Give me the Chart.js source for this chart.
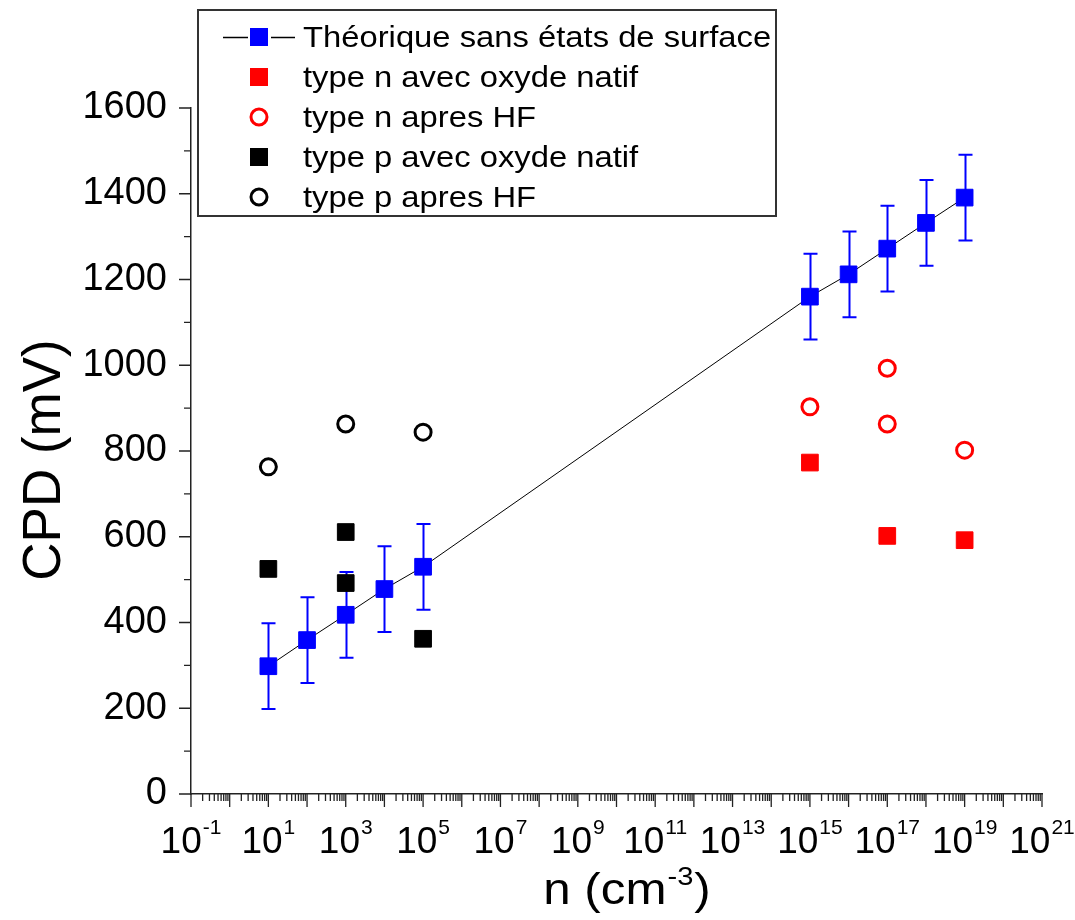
<!DOCTYPE html>
<html>
<head>
<meta charset="utf-8">
<title>CPD en fonction du dopage</title>
<script src="https://cdn.jsdelivr.net/npm/chart.js@4.4.1/dist/chart.umd.min.js"></script>
<style>
  html, body { margin: 0; padding: 0; background: #fff; }
  #wrap { width: 1075px; height: 920px; }
</style>
</head>
<body>
<div id="wrap"><canvas id="cpdChart" width="1075" height="920"></canvas></div>
<script>
// dopage n (cm-3) et CPD (mV)
const nTheo = [1e1, 1e2, 1e3, 1e4, 1e5, 1e15, 1e16, 1e17, 1e18, 1e19];
const cpdTheo = [298, 359, 418, 478, 530, 1160, 1212, 1272, 1332, 1391];
const errTheo = [100, 100, 100, 100, 100, 100, 100, 100, 100, 100];

const nTypeNOx = [1e15, 1e17, 1e19];
const cpdTypeNOx = [773, 602, 592];

const nTypeNHF = [1e15, 1e17, 1e17, 1e19];
const cpdTypeNHF = [903, 993, 863, 802];

const nTypePOx = [1e1, 1e3, 1e3, 1e5];
const cpdTypePOx = [525, 611, 492, 362];

const nTypePHF = [1e1, 1e3, 1e5];
const cpdTypePHF = [763, 863, 844];

const seriesNames = [
  'Théorique sans états de surface',
  'type n avec oxyde natif',
  'type n apres HF',
  'type p avec oxyde natif',
  'type p apres HF'
];

const xTickPowers = [-1, 1, 3, 5, 7, 9, 11, 13, 15, 17, 19, 21];
const yTicks = [0, 200, 400, 600, 800, 1000, 1200, 1400, 1600];

const FONT = '"Liberation Sans", Arial, sans-serif';

const pts = (xs, ys) => xs.map((x, i) => ({ x: x, y: ys[i] }));

// texte legerement etire horizontalement, comme dans la figure d'origine
function stretchText(ctx, txt, x, y, sx) {
  ctx.save();
  ctx.translate(x, y);
  ctx.scale(sx, 1);
  ctx.fillText(txt, 0, 0);
  ctx.restore();
}

function drawMarker(ctx, ds, x, y) {
  ctx.save();
  if (ds.pointStyle === 'rect') {
    ctx.fillStyle = ds.pointBackgroundColor;
    ctx.fillRect(x - 9, y - 9, 18, 18);
  } else {
    ctx.beginPath();
    ctx.arc(x, y, ds.pointRadius, 0, Math.PI * 2);
    ctx.lineWidth = ds.pointBorderWidth;
    ctx.strokeStyle = ds.pointBorderColor;
    ctx.stroke();
  }
  ctx.restore();
}

const figureDecor = {
  id: 'figureDecor',
  beforeDatasetsDraw(chart) {
    const ctx = chart.ctx;
    const xs = chart.scales.x, ys = chart.scales.y;
    ctx.save();
    ctx.strokeStyle = '#0000ff';
    ctx.lineWidth = 2;
    nTheo.forEach((n, i) => {
      const px = Math.round(xs.getPixelForValue(n)) + 0.5;
      const top = ys.getPixelForValue(cpdTheo[i] + errTheo[i]);
      const bot = ys.getPixelForValue(cpdTheo[i] - errTheo[i]);
      ctx.beginPath();
      ctx.moveTo(px, top); ctx.lineTo(px, bot);
      ctx.moveTo(px - 7, top); ctx.lineTo(px + 7, top);
      ctx.moveTo(px - 7, bot); ctx.lineTo(px + 7, bot);
      ctx.stroke();
    });
    ctx.restore();
  },
  afterDraw(chart) {
    const ctx = chart.ctx;
    const xs = chart.scales.x, ys = chart.scales.y;
    const area = chart.chartArea;
    ctx.save();
    ctx.strokeStyle = '#222';
    ctx.lineWidth = 1.3;

    // graduations de l'axe x (decades + mineures)
    ctx.beginPath();
    for (let p = xTickPowers[0]; p <= xTickPowers[xTickPowers.length - 1]; p++) {
      const px = xs.getPixelForValue(Math.pow(10, p));
      ctx.moveTo(px, area.bottom); ctx.lineTo(px, area.bottom + 13);
      if (p < xTickPowers[xTickPowers.length - 1]) {
        for (let k = 2; k <= 9; k++) {
          const mx = xs.getPixelForValue(k * Math.pow(10, p));
          ctx.moveTo(mx, area.bottom); ctx.lineTo(mx, area.bottom + 7);
        }
      }
    }
    // graduations de l'axe y
    yTicks.forEach((v, i) => {
      const py = ys.getPixelForValue(v);
      ctx.moveTo(area.left, py); ctx.lineTo(area.left - 12, py);
      if (i < yTicks.length - 1) {
        const my = ys.getPixelForValue((v + yTicks[i + 1]) / 2);
        ctx.moveTo(area.left, my); ctx.lineTo(area.left - 7, my);
      }
    });
    ctx.stroke();

    // etiquettes de l'axe x : 10 puissance
    ctx.fillStyle = '#000';
    ctx.textBaseline = 'alphabetic';
    ctx.textAlign = 'left';
    xTickPowers.forEach(p => {
      const px = xs.getPixelForValue(Math.pow(10, p));
      const sup = String(p);
      ctx.font = '37px ' + FONT;
      const wBase = ctx.measureText('10').width;
      ctx.font = '21px ' + FONT;
      const wSup = ctx.measureText(sup).width;
      const x0 = px - (wBase + wSup + 1) / 2;
      ctx.font = '37px ' + FONT;
      ctx.fillText('10', x0, 853);
      ctx.font = '21px ' + FONT;
      ctx.fillText(sup, x0 + wBase + 1, 834);
    });

    // titre de l'axe x : n (cm-3)
    const sx = 1.12;
    ctx.font = '44px ' + FONT;
    const wA = ctx.measureText('n (cm').width * sx;
    const wC = ctx.measureText(')').width * sx;
    ctx.font = '26px ' + FONT;
    const wB = ctx.measureText('-3').width * sx;
    let tx = 627 - (wA + wB + wC + 2) / 2;
    ctx.font = '44px ' + FONT;
    stretchText(ctx, 'n (cm', tx, 904, sx);
    ctx.font = '26px ' + FONT;
    stretchText(ctx, '-3', tx + wA + 1, 885, sx);
    ctx.font = '44px ' + FONT;
    stretchText(ctx, ')', tx + wA + wB + 2, 904, sx);

    // titre de l'axe y
    ctx.save();
    ctx.translate(60, 460);
    ctx.rotate(-Math.PI / 2);
    ctx.textAlign = 'center';
    ctx.font = '53px ' + FONT;
    ctx.fillText('CPD (mV)', 0, 0);
    ctx.restore();

    // legende
    const box = { left: 198, top: 10, right: 776, bottom: 216 };
    ctx.fillStyle = '#fff';
    ctx.fillRect(box.left, box.top, box.right - box.left, box.bottom - box.top);
    ctx.strokeStyle = '#333';
    ctx.lineWidth = 2;
    ctx.strokeRect(box.left, box.top, box.right - box.left, box.bottom - box.top);

    const rows = [37, 77, 117, 157, 197];
    const mx = 259;
    ctx.font = '29px ' + FONT;
    ctx.textBaseline = 'middle';
    chart.data.datasets.forEach((ds, i) => {
      const ry = rows[i];
      if (ds.showLine) {
        ctx.strokeStyle = ds.borderColor;
        ctx.lineWidth = 1.5;
        ctx.beginPath();
        ctx.moveTo(223, ry + 0.5); ctx.lineTo(248, ry + 0.5);
        ctx.moveTo(271, ry + 0.5); ctx.lineTo(295, ry + 0.5);
        ctx.stroke();
      }
      drawMarker(ctx, ds, mx, ry);
      ctx.fillStyle = '#000';
      stretchText(ctx, ds.label, 303, ry + 2, 1.13);
    });
    ctx.restore();
  }
};

const openCircle = (color) => ({
  pointStyle: 'circle',
  pointRadius: 8,
  pointBorderWidth: 3,
  pointBackgroundColor: 'rgba(0,0,0,0)',
  pointBorderColor: color,
  showLine: false
});
const filledSquare = (color) => ({
  pointStyle: 'rect',
  pointRadius: 11.8,
  pointBorderWidth: 1,
  pointBackgroundColor: color,
  pointBorderColor: color,
  showLine: false
});

const ctx = document.getElementById('cpdChart').getContext('2d');
const cpdChart = new Chart(ctx, {
  type: 'scatter',
  data: {
    datasets: [
      Object.assign(filledSquare('#0000ff'), {
        label: seriesNames[0], data: pts(nTheo, cpdTheo),
        showLine: true, borderColor: '#000', borderWidth: 1, order: 5
      }),
      Object.assign(filledSquare('#ff0000'), { label: seriesNames[1], data: pts(nTypeNOx, cpdTypeNOx), order: 1 }),
      Object.assign(openCircle('#ff0000'), { label: seriesNames[2], data: pts(nTypeNHF, cpdTypeNHF), order: 2 }),
      Object.assign(filledSquare('#000000'), { label: seriesNames[3], data: pts(nTypePOx, cpdTypePOx), order: 3 }),
      Object.assign(openCircle('#000000'), { label: seriesNames[4], data: pts(nTypePHF, cpdTypePHF), order: 4 })
    ]
  },
  options: {
    responsive: false,
    animation: false,
    devicePixelRatio: 1,
    layout: { padding: { top: 108, right: 33, left: 0, bottom: 0 } },
    plugins: {
      legend: { display: false },
      tooltip: { enabled: false }
    },
    scales: {
      x: {
        type: 'logarithmic',
        min: 0.1,
        max: 1e21,
        ticks: { display: false },
        grid: { display: false, drawTicks: false },
        border: { display: true, color: '#222', width: 1.5 },
        afterFit: s => { s.height = 126; }
      },
      y: {
        min: 0,
        max: 1600,
        afterBuildTicks: s => { s.ticks = yTicks.map(v => ({ value: v })); },
        ticks: {
          color: '#000',
          padding: 24,
          font: { family: FONT, size: 38 },
          callback: v => String(v)
        },
        grid: { display: false, drawTicks: false },
        border: { display: true, color: '#222', width: 1.5 },
        afterFit: s => { s.width = 191; }
      }
    }
  },
  plugins: [figureDecor]
});
</script>
</body>
</html>
